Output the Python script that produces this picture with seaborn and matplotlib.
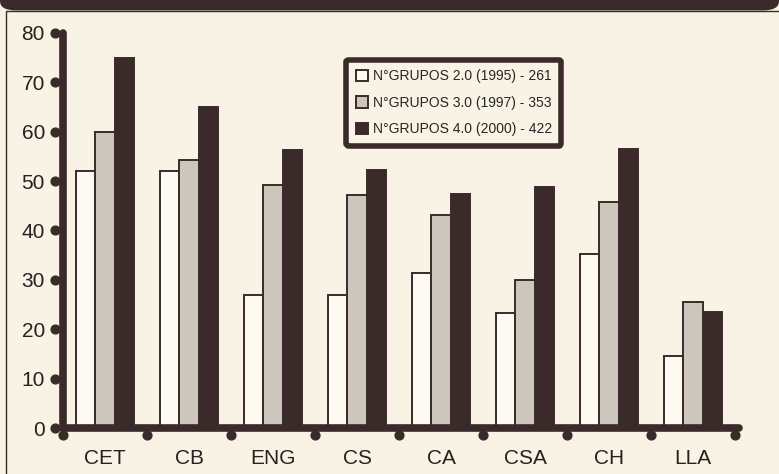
import numpy as np
import pandas as pd
import matplotlib.pyplot as plt
import seaborn as sns
from matplotlib.patches import FancyBboxPatch, Rectangle

# ---- data ----
categories = ["CET", "CB", "ENG", "CS", "CA", "CSA", "CH", "LLA"]
grupos_1995 = [52, 52, 27, 27, 31.3, 23.2, 35.3, 14.5]
grupos_1997 = [60, 54.2, 49.2, 47.2, 43.2, 30, 45.7, 25.5]
grupos_2000 = [75, 65.1, 56.4, 52.3, 47.3, 48.8, 56.6, 23.5]
series_names = ["N°GRUPOS 2.0 (1995) - 261",
                "N°GRUPOS 3.0 (1997) - 353",
                "N°GRUPOS 4.0 (2000) - 422"]
y_ticks = [0, 10, 20, 30, 40, 50, 60, 70, 80]

DARK = "#3b2a2a"
PAPER = "#f8f3e4"
colors = ["#fdfaf2", "#cdc6bd", DARK]

df = pd.DataFrame({
    "cat": categories * 3,
    "val": grupos_1995 + grupos_1997 + grupos_2000,
    "serie": [s for s in series_names for _ in categories],
})

sns.set_style("white")
plt.rcParams["font.family"] = ["Liberation Sans", "DejaVu Sans"]

fig = plt.figure(figsize=(7.79, 4.74), dpi=100, facecolor=PAPER)
ax = fig.add_axes([63 / 779, 1 - 428 / 474, 672 / 779, 395 / 474])
ax.set_facecolor(PAPER)

sns.barplot(data=df, x="cat", y="val", hue="serie", order=categories,
            hue_order=series_names, palette=colors, width=0.68, gap=0,
            edgecolor=DARK, linewidth=1.4, saturation=1, ax=ax)

ax.set_xlim(-0.5, 7.5)
ax.set_ylim(0, 80)
ax.set_xlabel("")
ax.set_ylabel("")
ax.set_yticks(y_ticks)
ax.tick_params(axis="y", length=0, pad=13, labelsize=15, labelcolor="#2a2020")
ax.tick_params(axis="x", length=0, pad=15, labelsize=15, labelcolor="#2a2020")

for side in ["top", "right"]:
    ax.spines[side].set_visible(False)
for side in ["left", "bottom"]:
    ax.spines[side].set_linewidth(5.5)
    ax.spines[side].set_color(DARK)
    ax.spines[side].set_capstyle("round")
ax.spines["bottom"].set_bounds(-0.5, 7.55)

# round tick "bulbs" like the original
ax.scatter([-0.012] * len(y_ticks), y_ticks, s=40, color=DARK,
           transform=ax.get_yaxis_transform(), clip_on=False, zorder=5)
bounds = np.arange(-0.5, 8.0, 1.0)
ax.scatter(bounds, [-0.018] * len(bounds), s=40, color=DARK,
           transform=ax.get_xaxis_transform(), clip_on=False, zorder=5)

leg = ax.legend(loc="upper left", bbox_to_anchor=(0.411, 0.95), fontsize=10,
                frameon=True, fancybox=True, handlelength=0.9, handleheight=0.9,
                handletextpad=0.3, labelspacing=0.9, borderpad=0.7,
                facecolor=PAPER, edgecolor=DARK)
leg.get_frame().set_linewidth(4)
leg.get_frame().set_alpha(1)

# dark title banner (cut off at the top of the scan) and page frame
fig.patches.append(FancyBboxPatch((0.0, 0.978), 1.0, 0.06,
                                  boxstyle="round,pad=0,rounding_size=0.02",
                                  transform=fig.transFigure, facecolor=DARK,
                                  edgecolor="none", zorder=0))
fig.patches.append(Rectangle((6 / 779, -0.1), 1.0, 1.1 - 11 / 474, fill=False,
                             edgecolor=DARK, linewidth=1,
                             transform=fig.transFigure, zorder=0))

fig.savefig("out.png", dpi=100, facecolor=PAPER)
